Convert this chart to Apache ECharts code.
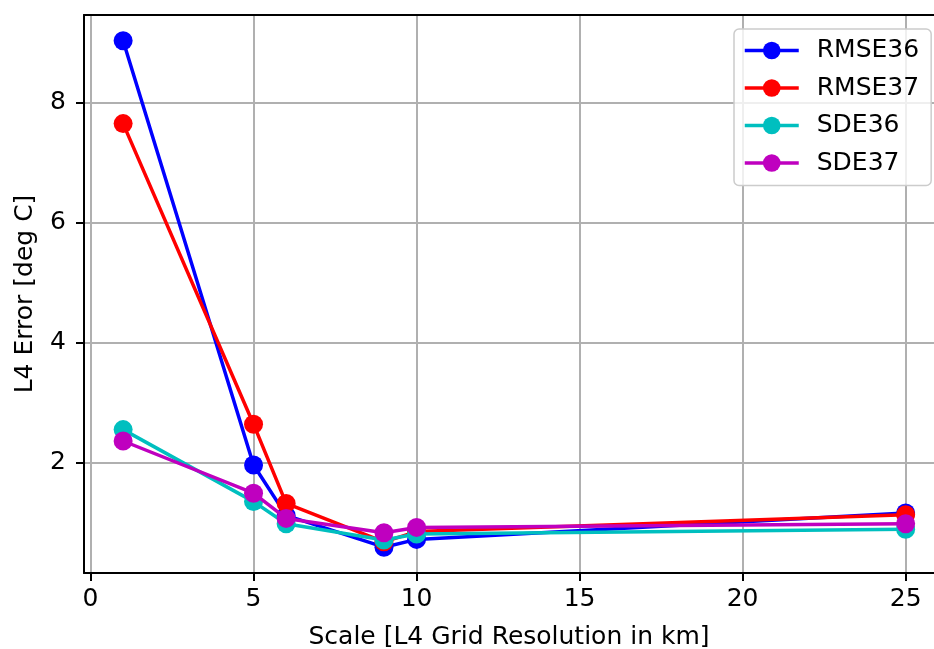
<!DOCTYPE html>
<html>
<head>
<meta charset="utf-8">
<script src="https://cdn.jsdelivr.net/npm/echarts@6/dist/echarts.min.js"></script>
<style>html,body{margin:0;padding:0;background:#fff;}#chart{width:934px;height:649px;}</style>
</head>
<body>
<div id="chart"></div>
<script>
const scales = [1, 5, 6, 9, 10, 25];
const rmse36 = [9.03, 1.96, 1.12, 0.59, 0.72, 1.16];
const rmse37 = [7.65, 2.64, 1.32, 0.68, 0.85, 1.13];
const sde36 = [2.55, 1.35, 0.98, 0.71, 0.81, 0.89];
const sde37 = [2.36, 1.49, 1.07, 0.83, 0.92, 0.98];
const xTicks = [0, 5, 10, 15, 20, 25];
const yTicks = [2, 4, 6, 8];
const names = ['RMSE36', 'RMSE37', 'SDE36', 'SDE37'];
const colors = ['#0000ff', '#ff0000', '#00bfbf', '#bf00bf'];
const values = [rmse36, rmse37, sde36, sde37];

const font = 'DejaVu Sans';
const fs = 25;
const chart = echarts.init(document.getElementById('chart'));
chart.setOption({
  animation: false,
  backgroundColor: '#ffffff',
  grid: { left: 84, top: 15, right: 0, bottom: 76, show: false, outerBoundsMode: 'none', containLabel: false },
  legend: {
    orient: 'vertical', left: 734, top: 29,
    itemWidth: 54, itemHeight: 22, itemGap: 12.5,
    padding: [9, 12, 10, 9],
    backgroundColor: 'rgba(255,255,255,0.8)', borderColor: '#cccccc', borderWidth: 1.5, borderRadius: 5,
    lineStyle: { width: 3.5 },
    textStyle: { fontFamily: font, fontSize: fs, color: '#000', padding: [0, 0, 0, 13] },
    data: names
  },
  xAxis: [{
    type: 'value', min: -0.2, max: 25.87,
    name: 'Scale [L4 Grid Resolution in km]', nameLocation: 'middle', nameGap: 52,
    nameTextStyle: { fontFamily: font, fontSize: fs, color: '#000' },
    axisLine: { show: true, onZero: false, lineStyle: { color: '#000', width: 2 } },
    axisTick: { show: true, length: 8, lineStyle: { color: '#000', width: 2 }, customValues: xTicks },
    axisLabel: { fontFamily: font, fontSize: fs, color: '#000', margin: 14, customValues: xTicks },
    splitLine: { show: true, lineStyle: { color: '#b0b0b0', width: 2 } }
  }, {
    type: 'value', position: 'top', min: -0.2, max: 25.87,
    axisLine: { show: true, onZero: false, lineStyle: { color: '#000', width: 2 } },
    axisTick: { show: false }, axisLabel: { show: false }, splitLine: { show: false }
  }],
  yAxis: {
    type: 'value', min: 0.16, max: 9.46,
    name: 'L4 Error [deg C]', nameLocation: 'middle', nameGap: 46,
    nameTextStyle: { fontFamily: font, fontSize: fs, color: '#000' },
    axisLine: { show: true, onZero: false, lineStyle: { color: '#000', width: 2 } },
    axisTick: { show: true, length: 8, lineStyle: { color: '#000', width: 2 }, customValues: yTicks },
    axisLabel: { fontFamily: font, fontSize: fs, color: '#000', margin: 18, customValues: yTicks },
    splitLine: { show: true, lineStyle: { color: '#b0b0b0', width: 2 } }
  },
  series: names.map((n, i) => ({
    name: n, type: 'line', xAxisIndex: 0,
    data: scales.map((x, j) => [x, values[i][j]]),
    symbol: 'circle', symbolSize: 19, showAllSymbol: true,
    lineStyle: { color: colors[i], width: 3.5 },
    itemStyle: { color: colors[i] },
    z: 3 + i
  }))
});
</script>
</body>
</html>
